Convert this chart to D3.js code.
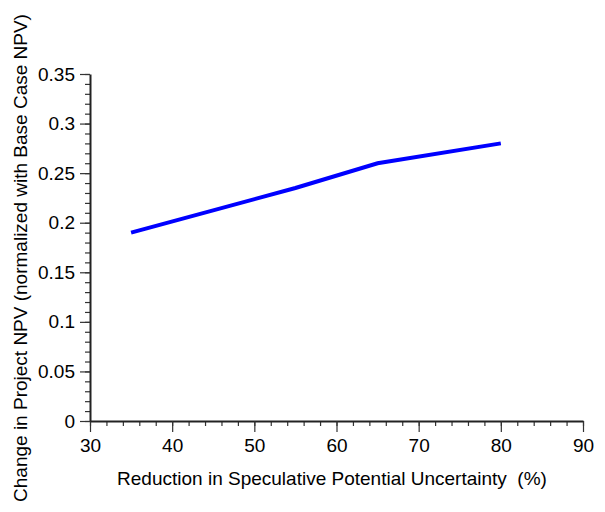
<!DOCTYPE html>
<html>
<head>
<meta charset="utf-8">
<script src="https://cdn.jsdelivr.net/npm/d3@7"></script>
<style>
  body { margin: 0; background: #fff; }
  text { font-family: "Liberation Sans", Arial, sans-serif; fill: #000; }
</style>
</head>
<body>
<svg id="chart" width="605" height="512"></svg>
<script>
// data
var reduction = [35, 55, 65, 80];          // % reduction in speculative potential uncertainty
var npvChange = [0.19, 0.235, 0.26, 0.28]; // normalized change in project NPV
var xTicks = [30, 40, 50, 60, 70, 80, 90];
var yTicks = [0, 0.05, 0.1, 0.15, 0.2, 0.25, 0.3, 0.35];

var svg = d3.select("#chart");

var x = d3.scaleLinear().domain([30, 90]).range([90, 583]);
var y = d3.scaleLinear().domain([0, 0.35]).range([421, 74]);

// minor ticks first so the majors sit on top
svg.append("g")
  .attr("transform", "translate(0,421)")
  .call(d3.axisBottom(x).tickValues(d3.range(30, 91, 2)).tickSize(5).tickFormat(""))
  .call(function(g) { g.select(".domain").remove(); });

svg.append("g")
  .attr("transform", "translate(90,0)")
  .call(d3.axisLeft(y).tickValues(d3.range(0, 0.3501, 0.01)).tickSize(5).tickFormat(""))
  .call(function(g) { g.select(".domain").remove(); });

// x axis
var xAxis = svg.append("g")
  .attr("transform", "translate(0,421)")
  .call(d3.axisBottom(x).tickValues(xTicks).tickSize(11).tickSizeOuter(0).tickPadding(7));
xAxis.selectAll("text").style("font-size", "19px");

// y axis
var yAxis = svg.append("g")
  .attr("transform", "translate(90,0)")
  .call(d3.axisLeft(y).tickValues(yTicks).tickSize(10).tickSizeOuter(0).tickPadding(5)
    .tickFormat(function(d) { return d3.format("~g")(+d.toFixed(2)); }));
yAxis.selectAll("text").style("font-size", "19px");

svg.selectAll(".domain").attr("stroke", "#222").attr("stroke-width", 2);
svg.selectAll(".tick line").attr("stroke", "#333").attr("stroke-width", 1.2);

// the curve
var line = d3.line()
  .x(function(d, i) { return x(reduction[i]); })
  .y(function(d) { return y(d); });

svg.append("path")
  .datum(npvChange)
  .attr("fill", "none")
  .attr("stroke", "#0000ff")
  .attr("stroke-width", 4)
  .attr("d", line);

// axis titles
svg.append("text")
  .attr("x", 332)
  .attr("y", 485)
  .attr("text-anchor", "middle")
  .style("font-size", "19px")
  .style("white-space", "pre")
  .text("Reduction in Speculative Potential Uncertainty  (%)");

svg.append("text")
  .attr("transform", "translate(27,258) rotate(-90)")
  .attr("text-anchor", "middle")
  .style("font-size", "19px")
  .text("Change in Project NPV (normalized with Base Case NPV)");
</script>
</body>
</html>
